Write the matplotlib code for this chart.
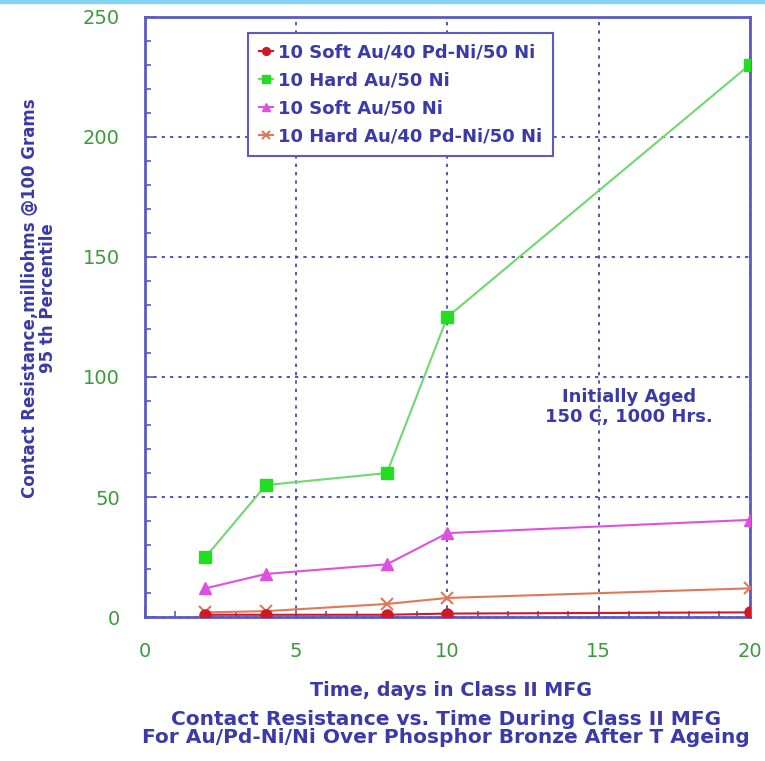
import matplotlib.pyplot as plt
from matplotlib.patches import Rectangle
from matplotlib.ticker import MultipleLocator

plt.rcParams["font.family"] = ["DejaVu Sans"]

# days in Class II MFG
days = [2, 4, 8, 10, 20]

soft_au_pdni = [1, 1, 1, 1.5, 2]
hard_au_ni = [25, 55, 60, 125, 230]
soft_au_ni = [12, 18, 22, 35, 40.5]
hard_au_pdni = [2, 2.5, 5.5, 8, 12]

labels = [
    "10 Soft Au/40 Pd-Ni/50 Ni",
    "10 Hard Au/50 Ni",
    "10 Soft Au/50 Ni",
    "10 Hard Au/40 Pd-Ni/50 Ni",
]

TEXT_BLUE = "#3a3aa8"
AXIS_BLUE = "#5a5ac8"
TICK_GREEN = "#3c9a3c"

fig = plt.figure(figsize=(7.65, 7.61), dpi=100)
ax = fig.add_axes([0.1895, 0.189, 0.7905, 0.789])

fig.patches.append(Rectangle((0, 0.996), 1, 0.004, transform=fig.transFigure,
                             color="#86d4f4", zorder=0))

ax.plot(days, soft_au_pdni, color="#d01828", marker="o", ms=8, lw=1.5,
        label=labels[0], zorder=5)
ax.plot(days, hard_au_ni, color="#70d870", marker="s", ms=9, mfc="#22dd22",
        mec="#22dd22", lw=1.5, label=labels[1], zorder=4)
ax.plot(days, soft_au_ni, color="#e050e0", marker="^", ms=8, lw=1.5,
        label=labels[2], zorder=4)
ax.plot(days, hard_au_pdni, color="#e07858", marker="x", ms=9, mew=1.5, lw=1.5,
        label=labels[3], zorder=4)

ax.set_xlim(0, 20)
ax.set_ylim(0, 250)
ax.xaxis.set_major_locator(MultipleLocator(5))
ax.xaxis.set_minor_locator(MultipleLocator(1))
ax.yaxis.set_major_locator(MultipleLocator(50))
ax.yaxis.set_minor_locator(MultipleLocator(10))
ax.tick_params(which="both", direction="in", color=AXIS_BLUE, width=1.2)
ax.tick_params(which="major", length=8, labelcolor=TICK_GREEN, labelsize=14, pad=18)
ax.tick_params(which="minor", length=4)
ax.grid(True, which="major", linestyle=(0, (2, 3)), color="#3a3aa0", lw=1.2)

for sp in ax.spines.values():
    sp.set_color(AXIS_BLUE)
    sp.set_linewidth(2)

leg = ax.legend(loc="upper left", bbox_to_anchor=(0.170, 0.973),
                prop={"size": 13, "weight": "bold"},
                handlelength=0.8, handletextpad=0.3, borderpad=0.6,
                labelspacing=0.55, fancybox=False, framealpha=1,
                edgecolor=AXIS_BLUE, markerscale=0.7, borderaxespad=0)
leg.get_frame().set_linewidth(1.5)
for t in leg.get_texts():
    t.set_color(TEXT_BLUE)

ax.text(16.0, 87.5, "Initially Aged\n150 C, 1000 Hrs.", ha="center", va="center",
        fontsize=13, fontweight="bold", color=TEXT_BLUE, linespacing=1.2)

fig.text(0.051, 0.608, "Contact Resistance,milliohms @100 Grams\n95 th Percentile",
         rotation=90, ha="center", va="center", fontsize=12, fontweight="bold",
         color=TEXT_BLUE, linespacing=1.05)
fig.text(0.59, 0.093, "Time, days in Class II MFG", ha="center", va="center",
         fontsize=13.8, fontweight="bold", color=TEXT_BLUE)
fig.text(0.583, 0.043,
         "Contact Resistance vs. Time During Class II MFG\n"
         "For Au/Pd-Ni/Ni Over Phosphor Bronze After T Ageing",
         ha="center", va="center", fontsize=14.5, fontweight="bold",
         color=TEXT_BLUE, linespacing=0.95)

fig.savefig("out.png", dpi=100)
